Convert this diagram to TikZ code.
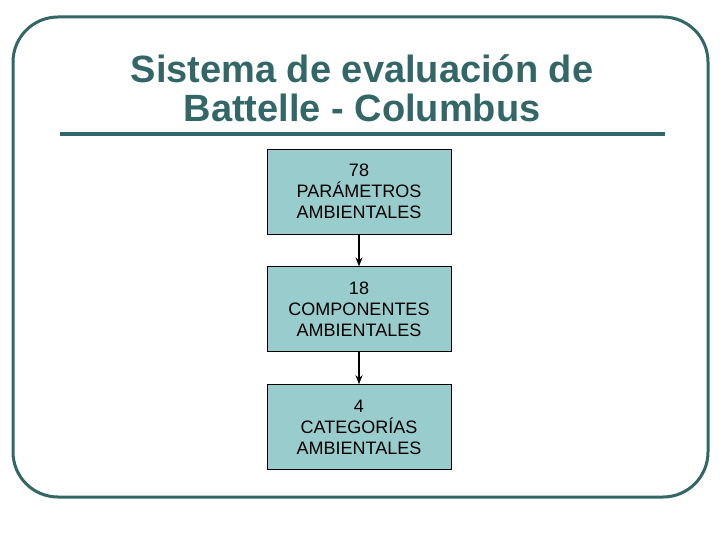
\documentclass[tikz,border=0pt]{standalone}
\usepackage{fontspec}
\setmainfont{Liberation Sans}
\usetikzlibrary{positioning,arrows.meta}

\begin{document}
\begin{tikzpicture}[x=1pt,y=-1pt,node distance=32pt,
    caja/.style={draw=black,line width=0.8pt,fill=cajafondo,minimum width=184pt,
        minimum height=85pt,inner sep=0pt,align=center,
        font=\fontsize{18}{21}\selectfont},
    flecha/.style={-{Stealth[length=9pt,width=7pt]},line width=1.3pt}]
        %colores
        \colorlet{verdeosc}{rgb:red,51;green,102;blue,102}
        \definecolor{cajafondo}{RGB}{153,204,204}

        \useasboundingbox (0,0) rectangle (720,540);

        %marco
        \draw[verdeosc,line width=3pt,rounded corners=45pt] (13,17) rectangle (708,497);

        %titulo
        \node[text=verdeosc,font=\fontsize{38}{39}\selectfont\bfseries,align=center]
            (titulo) at (362,88.5) {Sistema de evaluación de\\Battelle - Columbus};
        \draw[verdeosc,line width=4pt] (60,134) -- (665,134);

        %cajas
        \node[caja] (parametros) at (359,191.5) {78\\PARÁMETROS\\AMBIENTALES};
        \node[caja,below=of parametros] (componentes) {18\\COMPONENTES\\AMBIENTALES};
        \node[caja,below=of componentes] (categorias) {4\\CATEGORÍAS\\AMBIENTALES};

        %flechas
        \draw[flecha] (parametros) -- (componentes);
        \draw[flecha] (componentes) -- (categorias);
    \end{tikzpicture}
\end{document}
